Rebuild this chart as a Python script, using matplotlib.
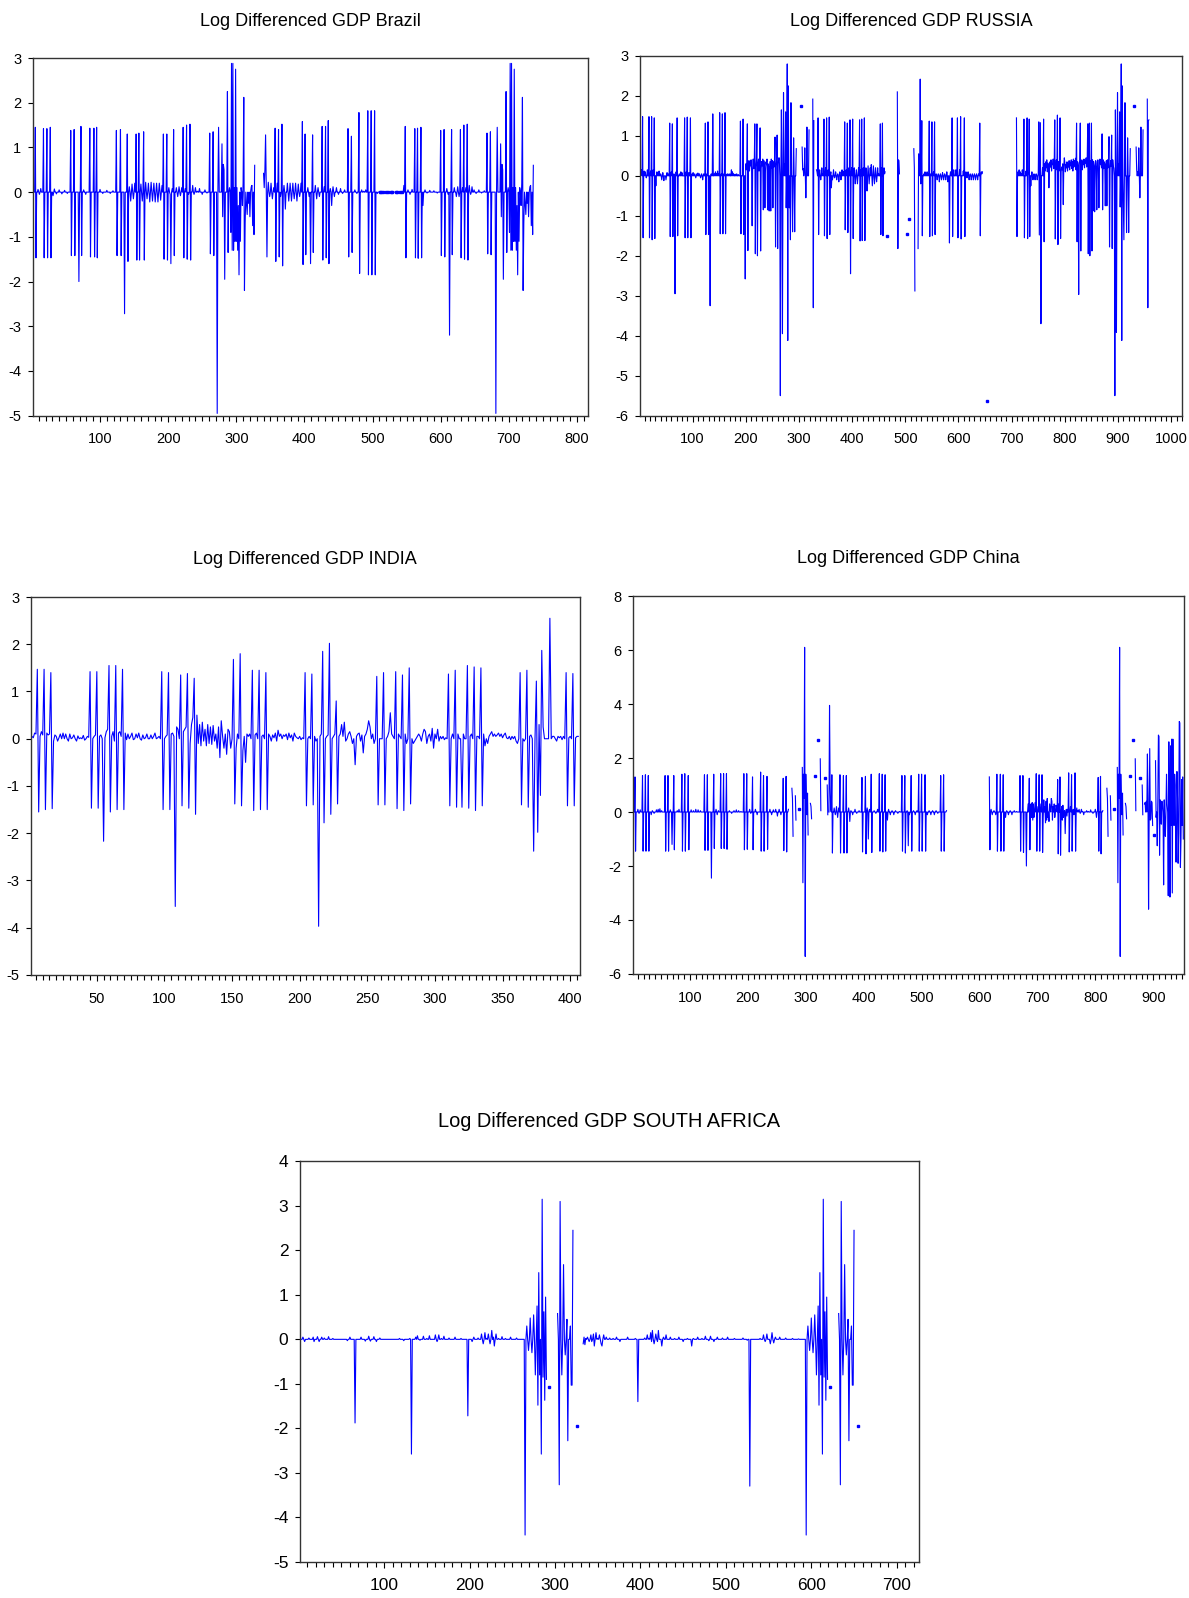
import numpy as np
import matplotlib.pyplot as plt
from matplotlib.ticker import MultipleLocator

plt.rcParams['font.family'] = ['Liberation Sans Narrow', 'Liberation Sans', 'DejaVu Sans']
plt.rcParams['axes.unicode_minus'] = False

LINE = '#0000ff'

# ---------------- Brazil ----------------
brazil_n = 736
brazil_moves = [
    (5, 1.45), (6, -1.47), (17, 1.42), (18, -1.47), (22, 1.42), (23, -1.47),
    (27, 1.45), (28, -1.47), (57, 1.38), (58, -1.42), (62, 1.40), (63, -1.42),
    (69, -2.00), (72, 1.47), (73, -1.42), (85, 1.43), (86, -1.45), (91, 1.43),
    (92, -1.45), (95, 1.45), (96, -1.47), (124, 1.38), (125, -1.42), (130, 1.40),
    (131, -1.42), (136, -2.72), (140, 1.30), (141, -1.55), (153, 1.30), (154, -1.52),
    (157, 1.32), (158, -1.52), (164, 1.35), (165, -1.52), (193, 1.30), (194, -1.50),
    (198, 1.30), (199, -1.52), (204, -1.60), (208, 1.40), (209, -1.42), (222, 1.45),
    (223, -1.47), (227, 1.50), (228, -1.50), (232, 1.52), (233, -1.52), (261, 1.32),
    (262, -1.38), (266, 1.35), (267, -1.42), (272, -4.95), (274, 1.45),
    (279, 1.08), (280, -0.55), (281, 0.62), (282, 0.50), (283, -1.95), (287, 2.25),
    (288, -1.35), (290, 0.10), (292, -0.90), (293, 2.88), (294, -1.30), (295, 2.88),
    (296, -1.30), (297, 0.10), (298, -1.10), (299, 2.75), (300, -1.10), (301, 0.10),
    (302, -1.30), (303, -0.30), (304, -1.85), (305, 0.00), (306, -1.10), (307, 0.10),
    (309, -0.30), (310, 0.20), (311, 2.12), (312, -2.20), (313, -0.70), (315, -0.25),
    (316, -0.50), (318, -0.25), (320, -0.55), (322, 0.12), (323, 0.15), (324, -0.75),
    (326, -0.95), (327, 0.60),
    (340, 0.42), (341, 0.10), (342, 0.50), (343, 1.28), (344, 0.10), (345, -1.45),
    (357, 1.43), (358, -1.55), (362, 1.40), (363, -1.45), (367, 1.52), (368, -1.65),
    (372, -0.38), (397, 1.58), (398, -1.62), (401, 1.30), (402, -1.40), (409, -1.60),
    (412, 1.28), (413, -1.35), (426, 1.47), (427, -1.52), (431, 1.47), (432, -1.47),
    (435, 1.60), (436, -1.60), (440, -0.30), (464, 1.42), (465, -1.45), (469, 1.25),
    (470, -1.35), (480, 1.78), (481, -1.82), (493, 1.82), (494, -1.85), (498, 1.82),
    (499, -1.85), (503, 1.82), (504, -1.85), (546, 0.15), (548, 1.47), (549, -1.47),
    (562, 1.42), (563, -1.47), (566, 1.43), (567, -1.48), (571, 1.45), (572, -1.47),
    (574, -0.30), (600, 1.38), (601, -1.42), (605, 1.40), (606, -1.45), (613, -3.20),
    (616, 1.40), (617, -1.40), (629, 1.40), (630, -1.47), (634, 1.50), (635, -1.50),
    (639, 1.52), (640, -1.52), (668, 1.32), (669, -1.38), (673, 1.35), (674, -1.40),
    (681, -4.95), (683, 1.45),
    (688, 1.08), (689, -0.55), (690, 0.62), (691, 0.50), (692, -1.95), (696, 2.25),
    (697, -1.35), (699, 0.10), (701, -0.90), (702, 2.88), (703, -1.30), (704, 2.88),
    (705, -1.30), (706, 0.10), (707, -1.10), (708, 2.75), (709, -1.10), (710, 0.10),
    (711, -1.30), (712, -0.30), (713, -1.85), (714, 0.00), (715, -1.10), (716, 0.10),
    (718, -0.30), (719, 0.20), (720, 2.12), (721, -2.20), (722, -0.70), (724, -0.25),
    (725, -0.50), (727, -0.25), (729, -0.55), (731, 0.12), (732, 0.15), (733, -0.75),
    (735, -0.95), (736, 0.60),
]
brazil_ripple = [
    (9, 0.06), (11, -0.05), (13, 0.08), (31, -0.08), (33, 0.07), (36, -0.04),
    (40, 0.05), (44, -0.04), (48, 0.04), (52, -0.03), (76, 0.05), (79, -0.05),
    (100, 0.06), (104, -0.03), (110, 0.04), (115, -0.03), (119, 0.03),
    (143, 0.12), (145, -0.20), (147, 0.18), (149, -0.15), (151, 0.20), (160, 0.18),
    (162, -0.20), (167, 0.22), (169, -0.15), (171, 0.20), (173, -0.22), (175, 0.22),
    (177, -0.20), (179, 0.20), (181, -0.22), (183, 0.20), (185, -0.22), (187, 0.20),
    (189, -0.18), (191, 0.15), (201, 0.10), (203, -0.05), (206, 0.08), (212, 0.10),
    (214, -0.10), (216, 0.12), (218, -0.08), (220, 0.10), (225, 0.08), (230, -0.05),
    (236, 0.15), (238, -0.05), (240, 0.10), (243, 0.02), (246, 0.08), (250, -0.05),
    (254, 0.05), (257, -0.02),
    (347, 0.22), (349, -0.10), (351, 0.20), (353, -0.15), (355, 0.10), (360, 0.20),
    (365, -0.10), (370, 0.15), (375, 0.20), (377, -0.20), (379, 0.20), (381, -0.20),
    (383, 0.20), (385, -0.15), (387, 0.20), (389, -0.20), (391, 0.18), (393, -0.10),
    (395, 0.20), (405, 0.10), (407, -0.10), (416, 0.15), (418, -0.15), (420, 0.10),
    (422, -0.10), (429, 0.12), (438, 0.08), (442, 0.12), (444, -0.10), (447, 0.10),
    (450, -0.05), (453, 0.08), (456, -0.03), (459, 0.05), (474, 0.05), (477, -0.03),
    (484, 0.05), (487, 0.02), (490, 0.05), (507, -0.03), (552, 0.05), (555, -0.05),
    (558, 0.06), (577, 0.05), (580, -0.02), (584, 0.04), (590, 0.03), (595, -0.02),
    (609, 0.08), (611, -0.05), (620, 0.10), (623, -0.10), (625, 0.12), (627, -0.10),
    (632, 0.10), (637, 0.10), (642, 0.15), (644, -0.05), (646, 0.12), (649, 0.05),
    (652, -0.03), (656, 0.05), (660, -0.02), (664, 0.03),
]
brazil_gaps = [(328, 339)]
brazil_missing = [510, 512, 514, 516, 519, 521, 523, 526, 528, 530, 533, 535,
                  537, 540, 542, 544]

# ---------------- Russia ----------------
russia_n = 958
russia_moves = [
    (6, 1.48), (7, -1.55), (18, 1.48), (19, -1.55), (23, 1.48), (24, -1.60),
    (28, 1.45), (29, -1.57), (31, -0.25), (57, 1.32), (58, -1.52), (62, 1.30),
    (63, -1.52), (67, -2.95), (71, 1.45), (72, -1.50), (85, 1.45), (86, -1.55),
    (90, 1.47), (91, -1.55), (96, 1.45), (97, -1.55), (124, 1.32), (125, -1.47),
    (129, 1.35), (130, -1.47), (133, -3.25), (138, 1.55), (151, 1.58), (152, -1.45),
    (156, 1.55), (157, -1.45), (161, 1.58), (162, -1.45), (173, 0.15), (190, 1.37),
    (191, -1.45), (195, 1.42), (196, -1.47), (199, -2.58), (203, 1.30), (204, -1.87),
    (212, -1.25), (217, 1.30), (218, -1.95), (221, 1.30), (222, -2.00), (227, 1.20),
    (228, -1.88), (233, -0.85), (236, -0.80), (241, -0.85), (244, -0.88), (247, -0.88),
    (251, -0.80), (255, 0.97), (256, -1.78), (259, 1.02), (260, -1.82), (263, 0.45),
    (265, -5.50), (267, 1.65), (269, -3.95), (271, 2.08), (273, 0.30), (275, 1.60),
    (276, -0.80), (278, 2.80), (279, -4.12), (280, 2.25), (282, -0.80), (284, -1.60),
    (285, 1.83), (288, -1.40), (290, 0.95), (292, -1.40), (295, 0.68),
    (303, 1.75),
    (306, 0.72), (307, 0.15), (308, 0.18), (310, 0.12), (311, 0.70), (313, -0.55),
    (315, 1.22), (317, 0.02), (319, 1.15),
    (326, 1.92), (327, -3.30), (328, 1.38),
    (333, 0.15), (336, 1.45), (337, -1.47), (347, 1.42), (348, -1.50), (352, 1.45),
    (353, -1.57), (357, 1.47), (358, -1.47), (361, -0.30), (386, 1.35), (387, -1.35),
    (391, 1.32), (392, -1.42), (396, 1.40), (397, -2.45), (401, 1.42), (402, -1.57),
    (414, 1.40), (415, -1.63), (418, 1.42), (419, -1.62), (423, 1.45), (424, -1.62),
    (428, -0.38), (436, 0.28), (453, 1.30), (454, -1.47), (457, 1.32), (458, -1.50),
    (462, 0.10), (465, -1.50),
    (485, 2.10), (486, -1.82), (487, 0.40), (488, 0.38), (489, 0.05),
    (504, -1.45), (507, -1.08),
    (516, 0.68), (517, 0.20), (518, -2.88),
    (524, -1.82), (525, 0.55), (526, 0.50), (528, 2.42), (529, -0.20), (531, 1.38),
    (532, -1.50), (545, 1.37), (546, -1.52), (550, 1.35), (551, -1.50), (555, 1.35),
    (556, -1.47), (583, -1.68), (588, 1.45), (589, -1.52), (598, 1.45), (599, -1.55),
    (604, 1.48), (605, -1.58), (611, 1.45), (612, -1.52), (640, 1.32), (641, -1.50),
    (645, 0.10), (653, -5.63),
    (709, 1.45), (710, -1.52), (723, 1.42), (724, -1.55), (729, 1.45), (730, -1.57),
    (733, 1.42), (734, -1.52), (736, -0.25), (751, 1.35), (752, -1.48), (754, 1.33),
    (755, -3.70), (760, 1.42), (761, -1.65), (770, -0.30), (781, 1.40), (782, -1.58),
    (786, 1.52), (787, -1.72), (791, 1.45), (792, -1.57), (797, -0.72), (799, 0.45),
    (822, 1.32), (823, -1.65), (826, -2.97), (829, 1.32), (830, -1.88), (843, 1.30),
    (844, -1.95), (846, 1.32), (847, -2.00), (850, 1.32), (851, -1.88), (853, -0.88),
    (856, -0.90), (860, -0.85), (864, -0.80), (870, 1.05), (871, -0.85), (876, -0.75),
    (879, -0.75), (883, 0.98), (884, -1.78), (888, 1.02), (889, -1.82), (892, 0.20),
    (894, -5.50), (895, 1.65), (897, -3.92), (899, 2.08), (901, 0.30), (903, 1.60),
    (904, -0.78), (906, 2.80), (907, -4.12), (908, 2.25), (910, -0.80), (911, -1.60),
    (913, 1.83), (916, -1.42), (918, 0.95), (920, -1.42), (923, 0.68),
    (930, 1.75),
    (934, 0.72), (935, 0.15), (937, 0.10), (939, 0.70), (941, -0.55), (943, 1.22),
    (945, 0.02), (947, 1.15), (955, 1.92), (956, -3.30), (957, 1.38), (958, 1.40),
]
russia_ripple = [
    (2, 0.15), (3, 0.10), (4, 0.15), (9, 0.12), (11, 0.10), (13, -0.05), (15, 0.15),
    (21, 0.12), (26, 0.15), (33, 0.10), (35, 0.05), (37, 0.12), (40, 0.05),
    (42, -0.10), (44, 0.08), (46, -0.12), (48, 0.00), (50, -0.10), (52, 0.08),
    (54, 0.05), (60, 0.10), (65, 0.05), (69, 0.10), (75, 0.05), (78, 0.10),
    (80, 0.08), (88, 0.10), (93, 0.08), (99, 0.05), (101, 0.08), (104, 0.05),
    (106, -0.05), (108, 0.05), (110, 0.07), (113, 0.05), (115, -0.05), (117, 0.05),
    (119, -0.10), (121, 0.05), (127, 0.05), (135, 0.05), (141, 0.05), (143, 0.10),
    (145, 0.05), (147, 0.12), (149, 0.05), (154, 0.05), (159, 0.05), (164, 0.04),
    (166, 0.05), (168, 0.04), (170, 0.05), (175, 0.10), (177, 0.05), (180, 0.04),
    (183, 0.05), (186, 0.03), (188, 0.00),
    (334, 0.10), (339, 0.15), (341, -0.10), (343, 0.20), (345, 0.05), (350, 0.20),
    (355, 0.15), (360, 0.10), (363, -0.10), (365, 0.15), (367, -0.05), (369, 0.10),
    (371, -0.10), (373, 0.05), (375, -0.15), (377, 0.10), (379, -0.10), (381, 0.15),
    (384, 0.10), (389, 0.15), (394, 0.20), (399, 0.20), (404, 0.20), (406, -0.20),
    (408, 0.15), (410, -0.20), (412, 0.20), (416, 0.15), (421, 0.20), (426, 0.20),
    (430, 0.25), (432, -0.20), (434, 0.20), (438, -0.25), (440, 0.25), (442, -0.20),
    (444, 0.20), (446, -0.15), (448, 0.20), (450, 0.05), (455, 0.20), (460, 0.20),
    (461, 0.05),
    (535, 0.05), (537, 0.10), (539, 0.05), (541, 0.10), (543, 0.05), (548, 0.05),
    (553, 0.10), (558, 0.05), (560, -0.10), (562, 0.05), (564, -0.15), (566, 0.05),
    (568, -0.10), (570, 0.08), (572, -0.10), (574, 0.05), (576, -0.10), (578, 0.10),
    (580, -0.15), (585, 0.10), (591, 0.15), (593, 0.00), (595, 0.15), (602, 0.15),
    (609, 0.12), (614, 0.10), (616, -0.05), (618, 0.10), (620, -0.10), (622, 0.05),
    (624, -0.10), (626, 0.05), (628, -0.10), (630, 0.05), (632, -0.10), (634, 0.05),
    (636, -0.10), (638, 0.05), (643, 0.10), (644, 0.05),
    (712, 0.10), (714, 0.15), (716, 0.10), (718, 0.05), (720, 0.15), (727, 0.12),
    (732, 0.10), (738, 0.10), (740, -0.10), (742, 0.05), (744, -0.10), (746, 0.05),
    (748, -0.10), (750, 0.05), (758, 0.20),
]
# raised, busy stretches of the series (first observation, values)
russia_band1 = (200, [
    0.30, 0.15, 0.35, 0.10, 0.30, 0.20, 0.38, 0.12, 0.32, 0.25,
    0.40, 0.15, 0.35, 0.20, 0.42, 0.18, 0.30, 0.10, 0.38, 0.22,
    0.40, 0.15, 0.35, 0.28, 0.42, 0.12, 0.33, 0.20, 0.40, 0.18,
    0.36, 0.25, 0.42, 0.15, 0.38, 0.20, 0.40, 0.12, 0.35, 0.28,
    0.42, 0.18, 0.30, 0.22, 0.40, 0.15, 0.36, 0.25, 0.42, 0.20,
    0.38, 0.15, 0.35, 0.22, 0.40, 0.18, 0.33, 0.25, 0.42, 0.20,
    0.38, 0.30, 0.45,
])
russia_band2 = (762, [
    0.30, 0.12, 0.35, 0.20, 0.40, 0.10, 0.32, 0.25, 0.38, 0.15,
    0.35, 0.22, 0.40, 0.12, 0.30, 0.28, 0.42, 0.18, 0.34, 0.10,
    0.38, 0.24, 0.40, 0.15, 0.30, 0.20, 0.36, 0.12, 0.32, 0.25,
    0.28, 0.10, 0.22, 0.15, 0.30, 0.05, 0.25, 0.18, 0.32, 0.10,
    0.28, 0.20, 0.35, 0.12, 0.30, 0.22, 0.38, 0.15, 0.34, 0.25,
    0.40, 0.18, 0.36, 0.12, 0.42, 0.22, 0.38, 0.28, 0.44, 0.15,
    0.40, 0.25, 0.35, 0.20, 0.42, 0.30, 0.38, 0.18, 0.44, 0.26,
    0.40, 0.15, 0.36, 0.28, 0.42, 0.20, 0.38, 0.32, 0.45, 0.22,
    0.40, 0.18, 0.35, 0.28, 0.42, 0.24, 0.38, 0.16, 0.44, 0.30,
    0.40, 0.22, 0.36, 0.26, 0.42, 0.18, 0.38, 0.30, 0.44, 0.20,
    0.40, 0.25, 0.36, 0.15, 0.42, 0.28, 0.38, 0.20, 0.44, 0.24,
    0.40, 0.18, 0.35, 0.30, 0.42, 0.22, 0.38, 0.26, 0.40, 0.20,
    0.36, 0.28, 0.42, 0.16, 0.38, 0.24, 0.35, 0.30, 0.40, 0.22,
    0.30,
])
russia_gaps = [(296, 302), (304, 305), (320, 325), (329, 332), (463, 464),
               (466, 484), (490, 503), (505, 506), (508, 515), (519, 523),
               (646, 652), (654, 708), (924, 929), (931, 933), (948, 954)]

# ---------------- India ----------------
india_n = 406
india_moves = [
    (6, 1.47), (7, -1.55), (11, 1.47), (12, -1.50), (16, 1.40), (17, -1.48),
    (45, 1.42), (46, -1.47), (50, 1.42), (51, -1.47), (55, -2.17), (59, 1.55),
    (60, -1.55), (64, 1.55), (65, -1.50), (69, 1.47), (70, -1.50), (98, 1.42),
    (99, -1.50), (103, 1.40), (104, -1.50), (108, -3.55), (109, 0.25), (112, 1.35),
    (113, -1.42), (117, 1.38), (118, -1.47), (122, 1.28), (123, -1.60), (151, 1.68),
    (152, -1.38), (156, 1.80), (157, -1.42), (160, -0.50), (165, 1.45), (166, -1.52),
    (170, 1.45), (171, -1.50), (175, 1.40), (176, -1.50), (204, 1.40), (205, -1.42),
    (209, 1.37), (210, -1.40), (214, -3.97), (217, 1.85), (218, -1.78), (222, 2.02),
    (223, -1.60), (227, 0.80), (228, -1.38), (241, -0.55), (257, 1.32), (258, -1.40),
    (262, 1.40), (263, -1.40), (267, 0.55), (271, 1.42), (272, -1.48), (276, 1.35),
    (277, -1.52), (281, 1.50), (282, -1.38), (310, 1.37), (311, -1.42), (315, 1.45),
    (316, -1.45), (320, -1.45), (324, 1.55), (325, -1.47), (329, 1.52), (330, -1.52),
    (334, 1.50), (335, -1.42), (363, 1.40), (364, -1.40), (368, 1.45), (369, -1.45),
    (373, -2.38), (375, 1.22), (376, -1.98), (377, 0.30), (378, -1.20), (379, 1.87),
    (380, 0.25), (385, 2.55), (386, 0.00), (397, 1.40), (398, -1.42), (402, 1.38),
    (403, -1.42),
]
india_ripple = [
    (2, 0.05), (3, 0.02), (4, 0.12), (5, 0.10), (8, 0.05), (9, 0.15), (10, 0.08),
    (13, 0.12), (14, 0.08), (15, 0.10), (18, -0.05), (19, 0.08), (20, 0.05),
    (21, -0.05), (22, 0.02), (23, 0.10), (25, 0.12), (26, 0.00), (27, 0.10),
    (29, -0.05), (30, 0.10), (32, 0.02), (33, 0.08), (35, -0.05), (36, 0.06),
    (38, 0.02), (40, 0.07), (41, -0.03), (43, 0.05), (44, 0.03),
    (48, 0.05), (49, 0.08), (52, 0.05), (53, 0.08), (56, 0.02), (57, 0.15),
    (58, 0.20), (61, 0.05), (62, 0.15), (63, -0.05), (66, 0.12), (67, 0.15),
    (68, 0.05), (71, 0.12), (72, -0.02), (73, 0.10), (75, 0.05), (76, 0.12),
    (77, -0.02), (79, 0.10), (80, 0.02), (81, 0.12), (83, -0.03), (84, 0.08),
    (86, 0.02), (87, 0.10), (89, 0.00), (90, 0.08), (92, 0.05), (93, 0.12),
    (95, 0.02), (96, 0.05),
    (101, 0.05), (102, 0.08), (105, 0.10), (106, 0.12), (107, 0.05), (110, 0.20),
    (114, 0.15), (115, 0.20), (116, 0.25), (119, -0.10), (120, 0.30), (121, 0.45),
    (124, 0.50), (125, -0.10), (126, 0.30), (127, -0.15), (128, 0.35), (129, -0.05),
    (130, 0.20), (131, -0.15), (132, 0.30), (133, -0.10), (134, 0.25), (135, -0.12),
    (136, 0.28), (137, -0.05), (138, 0.10), (139, -0.20), (140, 0.25), (141, -0.40),
    (142, 0.38), (143, 0.05), (144, -0.20), (145, 0.10), (146, -0.33), (147, 0.20),
    (148, 0.15), (149, -0.20),
    (153, -0.20), (154, 0.10), (158, -0.25), (159, 0.05), (161, 0.10), (162, 0.05),
    (163, 0.10), (167, 0.08), (168, 0.12), (172, 0.05), (173, 0.08), (177, 0.10),
    (178, 0.05), (179, -0.05), (180, 0.08), (181, 0.02), (182, 0.12), (183, -0.05),
    (184, 0.18), (185, 0.05), (186, 0.10), (187, 0.00), (188, 0.08), (189, 0.05),
    (190, 0.10), (191, -0.02), (192, 0.12), (193, 0.02), (194, 0.08), (195, -0.05),
    (196, 0.12), (197, 0.05), (198, 0.02), (200, 0.05), (201, -0.02), (202, 0.02),
    (207, 0.05), (211, 0.05), (212, -0.05), (215, 0.05), (216, 0.10), (220, 0.05),
    (221, 0.08), (225, 0.05), (226, 0.10), (229, 0.05), (230, 0.10), (231, 0.30),
    (232, 0.05), (233, 0.35), (234, -0.05), (236, 0.10), (237, 0.15), (238, 0.05),
    (239, -0.10), (242, 0.05), (243, 0.10), (244, 0.12), (245, -0.05), (246, 0.08),
    (247, -0.30), (248, 0.05), (249, 0.10), (250, 0.20), (251, 0.38), (252, 0.25),
    (254, 0.10), (255, -0.10),
    (265, 0.05), (266, 0.15), (268, 0.10), (269, 0.05), (273, 0.10), (274, 0.05),
    (278, 0.10), (279, -0.10), (284, -0.10), (285, -0.05), (287, 0.05), (288, 0.10),
    (289, 0.05), (290, -0.05), (291, 0.10), (292, 0.20), (293, 0.15), (294, -0.10),
    (295, 0.05), (296, 0.10), (297, -0.05), (298, 0.22), (299, -0.20), (300, 0.10),
    (302, 0.20), (303, -0.05), (304, 0.05), (306, 0.05), (307, -0.02), (308, 0.02),
    (313, 0.10), (317, 0.10), (321, 0.10), (326, 0.05), (327, 0.10), (331, 0.05),
    (332, 0.05), (336, 0.10), (337, -0.15), (339, -0.10), (340, 0.05), (341, 0.10),
    (342, 0.15), (343, 0.05), (344, 0.10), (345, 0.05), (346, 0.08), (347, 0.12),
    (348, 0.05), (349, 0.10), (350, 0.02), (351, 0.08), (352, 0.12), (353, 0.02),
    (355, 0.05), (356, -0.02), (357, 0.05), (359, 0.05), (360, -0.05), (361, -0.10),
    (366, -0.05), (370, 0.05), (371, 0.08), (387, 0.05), (388, 0.05), (390, -0.05),
    (391, 0.05), (392, 0.02), (393, 0.05), (394, -0.02), (395, 0.05), (399, 0.02),
    (400, 0.05), (404, 0.02), (405, 0.05), (406, 0.05),
]

# ---------------- China ----------------
china_n = 952
china_moves = [
    (5, 1.30), (6, -1.45), (18, 1.35), (19, -1.45), (23, 1.38), (24, -1.45),
    (28, 1.35), (29, -1.45), (57, 1.35), (58, -1.45), (62, 1.35), (63, -1.45),
    (69, -1.20), (72, 1.35), (73, -1.40), (86, 1.40), (87, -1.45), (91, 1.42),
    (92, -1.45), (97, 1.35), (98, -1.40), (125, 1.38), (126, -1.42), (130, 1.38),
    (131, -1.42), (137, -2.45), (141, 1.40), (142, -1.35), (153, 1.42), (154, -1.35),
    (158, 1.42), (159, -1.35), (163, 1.42), (164, -1.38), (193, 1.42), (194, -1.40),
    (198, 1.42), (199, -1.38), (208, 1.30), (209, -1.40), (222, 1.48), (223, -1.45),
    (227, 1.35), (228, -1.45), (233, 1.32), (234, -1.38), (261, 1.25), (262, -1.43),
    (266, 1.32), (267, -1.48), (270, 0.10),
    (276, 0.88), (277, 0.50), (278, -0.90), (282, 0.60), (283, -0.30), (289, 0.10),
    (294, 1.65), (295, -2.62), (296, 1.40), (297, 0.50), (298, 6.10), (299, -5.35),
    (300, 1.40), (301, 0.20), (302, -0.10), (303, 0.70), (304, -0.85), (308, 0.32),
    (309, 0.20), (310, -0.25), (316, 1.35), (321, 2.68), (325, 1.97), (326, 0.05),
    (333, 1.25), (337, 1.00), (338, -0.10), (341, 3.95), (342, 1.00), (343, 0.10),
    (345, 1.38), (346, -1.52), (359, 1.38), (360, -1.52), (365, 1.35), (366, -1.52),
    (370, 1.35), (371, -1.52), (376, -0.35), (397, 1.28), (398, -1.48), (403, 1.32),
    (404, -1.55), (408, -1.00), (413, 1.40), (414, -1.50), (427, 1.42), (428, -1.45),
    (432, 1.40), (433, -1.48), (437, 1.38), (438, -1.45), (441, -0.30), (466, 1.35),
    (467, -1.45), (471, 1.35), (472, -1.52), (477, -1.25), (482, 1.35), (483, -1.45),
    (495, 1.40), (496, -1.45), (500, 1.40), (501, -1.45), (506, 1.38), (507, -1.45),
    (533, 1.35), (534, -1.45), (538, 1.38), (539, -1.45), (543, 0.05),
    (617, 1.30), (618, -1.40), (630, 1.40), (631, -1.45), (636, 1.40), (637, -1.45),
    (641, 1.38), (642, -1.45), (645, -0.20), (670, 1.35), (671, -1.45), (675, 1.35),
    (676, -1.50), (681, -2.00), (684, 0.30), (686, 1.25), (687, -1.40), (698, 1.42),
    (699, -1.45), (703, 1.38), (704, -1.45), (708, 1.38), (709, -1.50), (735, 1.20),
    (736, -1.55), (739, 1.30), (740, -1.60), (748, -0.80), (754, 1.45), (755, -1.48),
    (759, 1.38), (760, -1.45), (765, 1.45), (766, -1.45), (805, 1.28), (806, -1.45),
    (809, 1.32), (810, -1.55), (813, 0.05),
    (820, 0.88), (821, 0.50), (822, -0.90), (826, 0.60), (827, -0.30), (833, 0.10),
    (838, 1.65), (839, -2.62), (840, 1.40), (841, 0.50), (842, 6.10), (843, -5.35),
    (844, 1.40), (845, 0.20), (846, -0.10), (847, 0.70), (848, -0.85), (852, 0.32),
    (853, 0.20), (854, -0.25), (860, 1.35), (865, 2.68), (869, 1.97), (870, 0.05),
    (877, 1.25), (881, 1.00), (882, -0.10),
    (885, 0.30), (886, 0.35), (888, 0.40), (890, 2.15), (891, 0.50), (892, -3.60),
    (893, -0.20), (894, 2.35), (895, -0.30), (896, -0.25), (897, 0.40), (898, 0.35),
    (899, -0.50), (901, -0.85), (904, 1.90), (905, -0.20), (907, -1.25), (908, 0.40),
    (909, 2.85), (910, 2.80), (911, -1.60), (912, 0.45), (913, 0.30), (914, -0.45),
    (915, 0.40), (916, 0.30), (918, -2.70), (919, 0.45), (920, -0.30), (921, -0.90),
    (922, 0.00), (923, 1.40), (924, 0.30), (926, -3.10), (927, 2.60), (928, 0.20),
    (929, -3.15), (930, 2.45), (931, -0.50), (932, 2.70), (933, -3.00), (934, 2.70),
    (935, 0.30), (936, -0.50), (937, 1.40), (938, 1.00), (939, -1.85), (940, -1.85),
    (941, 1.50), (942, 0.50), (943, -1.90), (944, -0.80), (945, 3.35), (946, 3.30),
    (947, -2.05), (948, -1.00), (949, 1.20), (950, -0.50), (951, 1.30), (952, -1.00),
]
china_ripple = [
    (10, 0.10), (12, -0.05), (14, 0.08), (33, -0.10), (35, 0.05), (38, -0.05),
    (42, 0.08), (45, 0.10), (48, 0.12), (51, 0.05), (66, 0.08), (78, 0.05),
    (81, 0.10), (102, 0.08), (106, 0.05), (110, 0.10), (114, 0.08), (118, 0.05),
    (145, 0.10), (147, -0.10), (149, 0.05), (168, 0.05), (172, -0.05), (176, 0.05),
    (180, 0.08), (184, 0.05), (188, 0.02), (203, 0.10), (205, -0.05), (213, 0.10),
    (216, -0.10), (238, 0.10), (241, -0.10), (244, 0.08), (248, 0.10), (251, -0.15),
    (254, 0.10), (257, -0.10),
    (349, 0.15), (351, -0.10), (353, 0.20), (355, -0.20), (357, 0.15), (374, 0.15),
    (378, 0.05), (381, -0.10), (385, 0.10), (388, -0.05), (392, 0.05), (406, 0.15),
    (410, 0.10), (418, 0.05), (421, -0.05), (424, 0.10), (443, 0.10), (446, -0.10),
    (449, 0.05), (452, -0.10), (455, 0.05), (459, -0.05), (462, 0.02), (475, 0.05),
    (479, -0.10), (486, 0.05), (489, -0.10), (492, 0.05), (510, -0.10), (513, 0.05),
    (516, -0.10), (519, 0.05), (522, -0.10), (525, 0.05), (528, -0.05),
    (620, 0.10), (622, -0.10), (625, 0.05), (628, -0.10), (647, 0.05), (650, -0.10),
    (653, 0.05), (656, -0.10), (660, 0.05), (664, 0.02),
    (689, 0.30), (690, -0.20), (691, 0.35), (692, -0.30), (693, 0.30), (694, -0.20),
    (696, 0.35), (701, 0.20), (706, 0.30), (710, -0.20), (711, 0.45), (713, 0.20),
    (714, -0.40), (715, 0.40), (716, -0.30), (717, 0.50), (718, -0.20), (720, -0.35),
    (721, 0.30), (722, 0.10), (724, 0.50), (725, 0.40), (726, -0.30), (727, 0.20),
    (729, 0.30), (730, -0.20), (732, 0.25), (733, 0.20), (737, 0.30), (742, 0.20),
    (743, -0.30), (744, 0.25), (745, -0.20), (747, 0.05), (750, 0.10), (751, -0.15),
    (752, 0.10), (757, 0.20), (762, 0.10), (763, -0.10), (768, 0.15), (770, 0.05),
    (772, 0.10), (774, -0.05), (776, 0.10), (778, 0.02), (780, -0.10), (785, 0.05),
    (788, 0.02), (792, 0.08), (796, -0.05), (800, 0.10), (802, -0.20), (804, 0.05),
]
china_gaps = [(271, 275), (279, 281), (284, 288), (290, 293), (305, 307),
              (311, 315), (317, 320), (322, 324), (327, 332), (334, 336),
              (339, 339), (544, 616), (814, 819), (823, 825), (828, 832),
              (834, 837), (849, 851), (855, 859), (861, 864), (866, 868),
              (871, 876), (878, 880), (883, 884), (900, 900), (902, 903)]

# ---------------- South Africa ----------------
sa_n = 655
sa_moves = [
    (66, -1.88), (132, -2.58), (198, -1.72),
    (265, -4.40), (267, 0.30), (269, -0.25), (271, 0.48), (273, -0.30), (275, 0.55),
    (277, -0.80), (279, 0.75), (280, -1.48), (281, 1.50), (282, -0.80), (284, -2.58),
    (285, 3.15), (286, -0.85), (287, 0.62), (288, -1.37), (289, 0.95), (290, -0.90),
    (293, -1.08),
    (303, 0.58), (305, -3.27), (306, 3.10), (308, -0.80), (310, 1.68), (312, -0.35),
    (314, 0.45), (315, -2.28), (318, 0.30), (319, -1.03), (320, -1.03), (321, 2.45),
    (326, -1.95),
    (397, -1.40), (528, -3.30),
    (594, -4.40), (596, 0.30), (598, -0.25), (600, 0.48), (602, -0.30), (604, 0.55),
    (606, -0.80), (608, 0.75), (609, -1.48), (610, 1.50), (611, -0.80), (613, -2.58),
    (614, 3.15), (615, -0.85), (616, 0.62), (617, -1.37), (618, 0.95), (619, -0.90),
    (622, -1.08),
    (632, 0.58), (634, -3.27), (635, 3.10), (637, -0.80), (639, 1.68), (641, -0.35),
    (643, 0.45), (644, -2.28), (647, 0.30), (648, -1.03), (649, -1.03), (650, 2.45),
    (655, -1.95),
]
sa_ripple = [
    (5, 0.05), (7, -0.05), (12, 0.03), (17, 0.05), (18, -0.05), (22, 0.06),
    (24, -0.05), (27, 0.05), (30, 0.03), (35, 0.06), (40, 0.02), (57, -0.03),
    (60, 0.05), (68, 0.00), (73, 0.05), (78, -0.04), (82, 0.07), (84, -0.04),
    (88, 0.06), (91, -0.05), (95, 0.03), (118, 0.02), (123, -0.03), (130, 0.02),
    (137, 0.05), (139, 0.08), (142, -0.02), (146, 0.07), (150, 0.02), (153, 0.08),
    (156, 0.00), (160, 0.10), (162, -0.05), (164, 0.10), (167, 0.02), (170, 0.07),
    (176, 0.03), (183, 0.05), (190, 0.02), (203, -0.05), (205, 0.05), (210, 0.03),
    (214, 0.12), (216, -0.10), (218, 0.15), (220, 0.02), (222, 0.12), (224, -0.10),
    (226, 0.20), (228, 0.05), (229, -0.15), (231, 0.12), (234, 0.02), (238, 0.06),
    (242, 0.02), (248, 0.05), (255, 0.03),
    (333, -0.10), (334, 0.05), (335, -0.12), (336, 0.02), (338, 0.05), (340, -0.05),
    (342, 0.10), (343, -0.05), (345, 0.12), (346, -0.15), (348, 0.15), (350, 0.02),
    (352, 0.10), (354, -0.10), (355, -0.15), (357, 0.10), (360, 0.05), (364, 0.03),
    (368, 0.02), (372, 0.05), (376, -0.05), (380, 0.00), (385, 0.05), (390, 0.00),
    (394, 0.02), (402, 0.00), (405, 0.03), (408, 0.10), (410, 0.02), (412, 0.15),
    (413, -0.05), (414, 0.20), (416, -0.10), (418, 0.12), (420, -0.05), (421, 0.20),
    (423, 0.00), (425, -0.15), (427, 0.05), (430, 0.10), (432, 0.00), (435, 0.05),
    (440, 0.02), (445, 0.05), (450, -0.05), (455, 0.02), (460, -0.15), (462, 0.02),
    (467, 0.05), (472, 0.02), (476, 0.07), (480, -0.03), (482, 0.07), (486, -0.05),
    (490, 0.05), (496, 0.03), (502, 0.05), (510, 0.02), (520, 0.03), (525, -0.02),
    (540, 0.02), (544, 0.10), (546, -0.05), (548, 0.12), (550, 0.00), (552, -0.10),
    (554, 0.15), (556, -0.08), (558, 0.05), (563, 0.05), (570, 0.03), (578, 0.02),
    (585, 0.01),
]
sa_gaps = [(291, 292), (294, 302), (322, 325), (327, 332),
           (620, 621), (623, 631), (651, 654)]


def build_series(n, moves, ripple=(), bands=(), gaps=(), missing=()):
    obs = np.arange(1, n + 1)
    y = np.zeros(n)
    for start, vals in bands:
        y[start - 1:start - 1 + len(vals)] = vals
    for i, v in ripple:
        y[i - 1] = v
    for i, v in moves:
        y[i - 1] = v
    for a, b in gaps:
        y[a - 1:b] = np.nan
    for i in missing:
        y[i - 1] = np.nan
    return obs, y


def draw_panel(ax, obs, y, title, xlim, ylim, ystep, xmajor, xminor,
               tick_fs, title_fs, title_pad=24):
    ax.plot(obs, y, color=LINE, lw=0.8)
    # observations with no neighbours would vanish from a line plot
    ok = np.isfinite(y)
    prev_ok = np.r_[False, ok[:-1]]
    next_ok = np.r_[ok[1:], False]
    lone = ok & ~prev_ok & ~next_ok
    ax.plot(obs[lone], y[lone], ls='none', marker='s', ms=1.5, color=LINE)

    ax.set_xlim(*xlim)
    ax.set_ylim(*ylim)
    ax.set_yticks(np.arange(ylim[0], ylim[1] + 0.01, ystep))
    ax.xaxis.set_major_locator(MultipleLocator(xmajor))
    ax.xaxis.set_minor_locator(MultipleLocator(xminor))
    ax.tick_params(axis='x', which='major', direction='out', length=4.5,
                   width=0.8, labelsize=tick_fs, pad=7.5)
    ax.tick_params(axis='x', which='minor', direction='out', length=3.4,
                   width=0.8)
    ax.tick_params(axis='y', direction='out', length=3.5, width=0.8,
                   labelsize=tick_fs, pad=4.5)
    for s in ax.spines.values():
        s.set_linewidth(1.0)
        s.set_color('#333333')
    ax.set_title(title, fontsize=title_fs, pad=title_pad)


fig = plt.figure(figsize=(11.89, 15.98), dpi=100)

ax1 = fig.add_axes([0.0274, 0.7399, 0.4670, 0.2238])
obs, y = build_series(brazil_n, brazil_moves, brazil_ripple,
                      gaps=brazil_gaps, missing=brazil_missing)
draw_panel(ax1, obs, y, 'Log Differenced GDP Brazil', (1, 816), (-5, 3), 1,
           100, 10, 10.5, 13, title_pad=23)

ax2 = fig.add_axes([0.5382, 0.7399, 0.4558, 0.2251])
obs, y = build_series(russia_n, russia_moves, russia_ripple,
                      bands=[russia_band1, russia_band2], gaps=russia_gaps)
draw_panel(ax2, obs, y, 'Log Differenced GDP RUSSIA', (1, 1020), (-6, 3), 1,
           100, 10, 10.5, 13, title_pad=21.5)

ax3 = fig.add_axes([0.0257, 0.3899, 0.4618, 0.2365])
obs, y = build_series(india_n, india_moves, india_ripple)
draw_panel(ax3, obs, y, 'Log Differenced GDP INDIA', (1, 407), (-5, 3), 1,
           50, 5, 10.5, 13)

ax4 = fig.add_axes([0.5321, 0.3905, 0.4636, 0.2365])
obs, y = build_series(china_n, china_moves, china_ripple, gaps=china_gaps)
draw_panel(ax4, obs, y, 'Log Differenced GDP China', (1, 953), (-6, 8), 2,
           100, 10, 10.5, 13)

ax5 = fig.add_axes([0.2519, 0.0227, 0.5210, 0.2505])
obs, y = build_series(sa_n, sa_moves, sa_ripple, gaps=sa_gaps)
draw_panel(ax5, obs, y, 'Log Differenced GDP SOUTH AFRICA', (1, 726), (-5, 4), 1,
           100, 10, 12.5, 14.4, title_pad=25)

fig.savefig('out.png', dpi=100)
